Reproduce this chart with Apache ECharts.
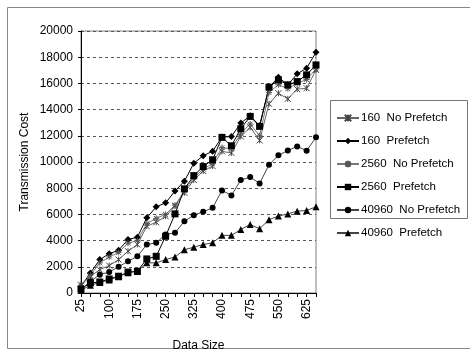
<!DOCTYPE html>
<html>
<head>
<meta charset="utf-8">
<script src="https://cdn.jsdelivr.net/npm/echarts@6/dist/echarts.min.js"></script>
<style>html,body{margin:0;padding:0;background:#fff}#c{width:470px;height:356px}</style>
</head>
<body>
<div id="c"></div>
<script>
const categories = ['25','50','75','100','125','150','175','200','225','250','275','300','325','350','375','400','425','450','475','500','525','550','575','600','625','650'];
const seriesNames = ['160  No Prefetch','160  Prefetch','2560  No Prefetch','2560  Prefetch','40960  No Prefetch','40960  Prefetch'];
const s160NoPrefetch = [640,1275,1785,2090,2550,3190,3700,5100,5400,5860,6630,7650,8620,9310,9690,10810,10690,11950,12640,11650,14440,15250,14820,15560,15630,17030];
const s160Prefetch = [500,1530,2550,3000,3260,4080,4260,5740,6580,6880,7780,8540,9900,10480,10820,11900,11950,12970,13530,12770,15710,16470,15890,16730,17160,18380];
const s2560NoPrefetch = [550,1350,2300,2750,3100,3800,4000,5300,5700,6000,6700,7800,8800,9450,9900,11100,11000,12200,12900,12000,15300,15900,15600,16000,16300,17100];
const s2560Prefetch = [300,770,840,1070,1280,1600,1660,2600,2800,4330,6040,7950,8960,9650,10170,11880,11240,12540,13480,12720,15710,16270,15890,16140,16650,17410];
const s40960NoPrefetch = [250,900,1400,1600,2000,2420,2800,3700,3830,4460,4590,5480,5940,6200,6500,7830,7450,8620,8850,8360,9790,10510,10870,11190,10860,11880];
const s40960Prefetch = [200,600,800,1000,1250,1550,1650,2300,2300,2550,2750,3300,3500,3700,3830,4400,4400,4850,5230,4900,5600,5870,6040,6250,6300,6580];
const yTicks = {min:0, max:20000, interval:2000};

const xStar = 'path://M0,0L10,10M10,0L0,10M5,0L5,10';
const asterisk = 'path://M0,5L10,5M5,0L5,10M1,1L9,9M9,1L1,9';
const font = 'Liberation Sans, Arial, sans-serif';

const chart = echarts.init(document.getElementById('c'), null, {renderer:'canvas'});
function mk(name, data, symbol, size, lineColor, markColor, stroke){
  return {
    name, type:'line', data, symbol, symbolSize:size, showSymbol:true, showAllSymbol:true,
    lineStyle:{color:lineColor, width:1},
    itemStyle: stroke ? {color:'transparent', borderColor:markColor, borderWidth:1} : {color:markColor, borderWidth:0},
    animation:false
  };
}
chart.setOption({
  backgroundColor:'#fff',
  animation:false,
  graphic:[{type:'rect', shape:{x:7.5,y:7.5,width:470,height:341}, style:{fill:'none', stroke:'#888', lineWidth:1}, silent:true},
           {type:'rect', shape:{x:330.5,y:100.5,width:137,height:118}, style:{fill:'#fff', stroke:'#777', lineWidth:1}, silent:true, z:-1}],
  grid:{left:81, top:31, right:154, bottom:63, show:true, borderColor:'#808080', borderWidth:1, outerBoundsMode:'none', containLabel:false},
  legend:{
    orient:'vertical', left:331, top:107, itemGap:11, itemWidth:22, itemHeight:8,
    data:seriesNames,
    textStyle:{fontFamily:font, fontSize:11.5, color:'#000', padding:[0,0,0,-3]},
    z:10
  },
  xAxis:{
    type:'category', data:categories, boundaryGap:false,
    name:'Data Size', nameLocation:'middle', nameGap:47,
    nameTextStyle:{fontFamily:font, fontSize:12, color:'#000'},
    axisLine:{lineStyle:{color:'#000'}},
    axisTick:{show:true, interval:0, length:4, lineStyle:{color:'#000'}},
    axisLabel:{interval:2, rotate:90, fontFamily:font, fontSize:12, color:'#000', margin:6},
    splitLine:{show:false}
  },
  yAxis:{
    type:'value', min:yTicks.min, max:yTicks.max, interval:yTicks.interval,
    name:'Transmission Cost', nameLocation:'middle', nameGap:50,
    nameTextStyle:{fontFamily:font, fontSize:12, color:'#000'},
    axisLine:{show:true, lineStyle:{color:'#000'}},
    axisTick:{show:true, length:3, lineStyle:{color:'#000'}},
    axisLabel:{fontFamily:font, fontSize:12, color:'#000', margin:8, formatter:v=>String(v)},
    splitLine:{show:true, lineStyle:{color:'#555', type:[3,3], width:1}}
  },
  series:[
    mk(seriesNames[0], s160NoPrefetch, xStar, 6, '#666', '#444', true),
    mk(seriesNames[1], s160Prefetch, 'diamond', 7, '#000', '#000', false),
    mk(seriesNames[2], s2560NoPrefetch, asterisk, 6, '#777', '#555', true),
    mk(seriesNames[3], s2560Prefetch, 'rect', 7, '#000', '#000', false),
    mk(seriesNames[4], s40960NoPrefetch, 'circle', 6, '#444', '#000', false),
    mk(seriesNames[5], s40960Prefetch, 'triangle', 7, '#444', '#000', false)
  ]
});
</script>
</body>
</html>
